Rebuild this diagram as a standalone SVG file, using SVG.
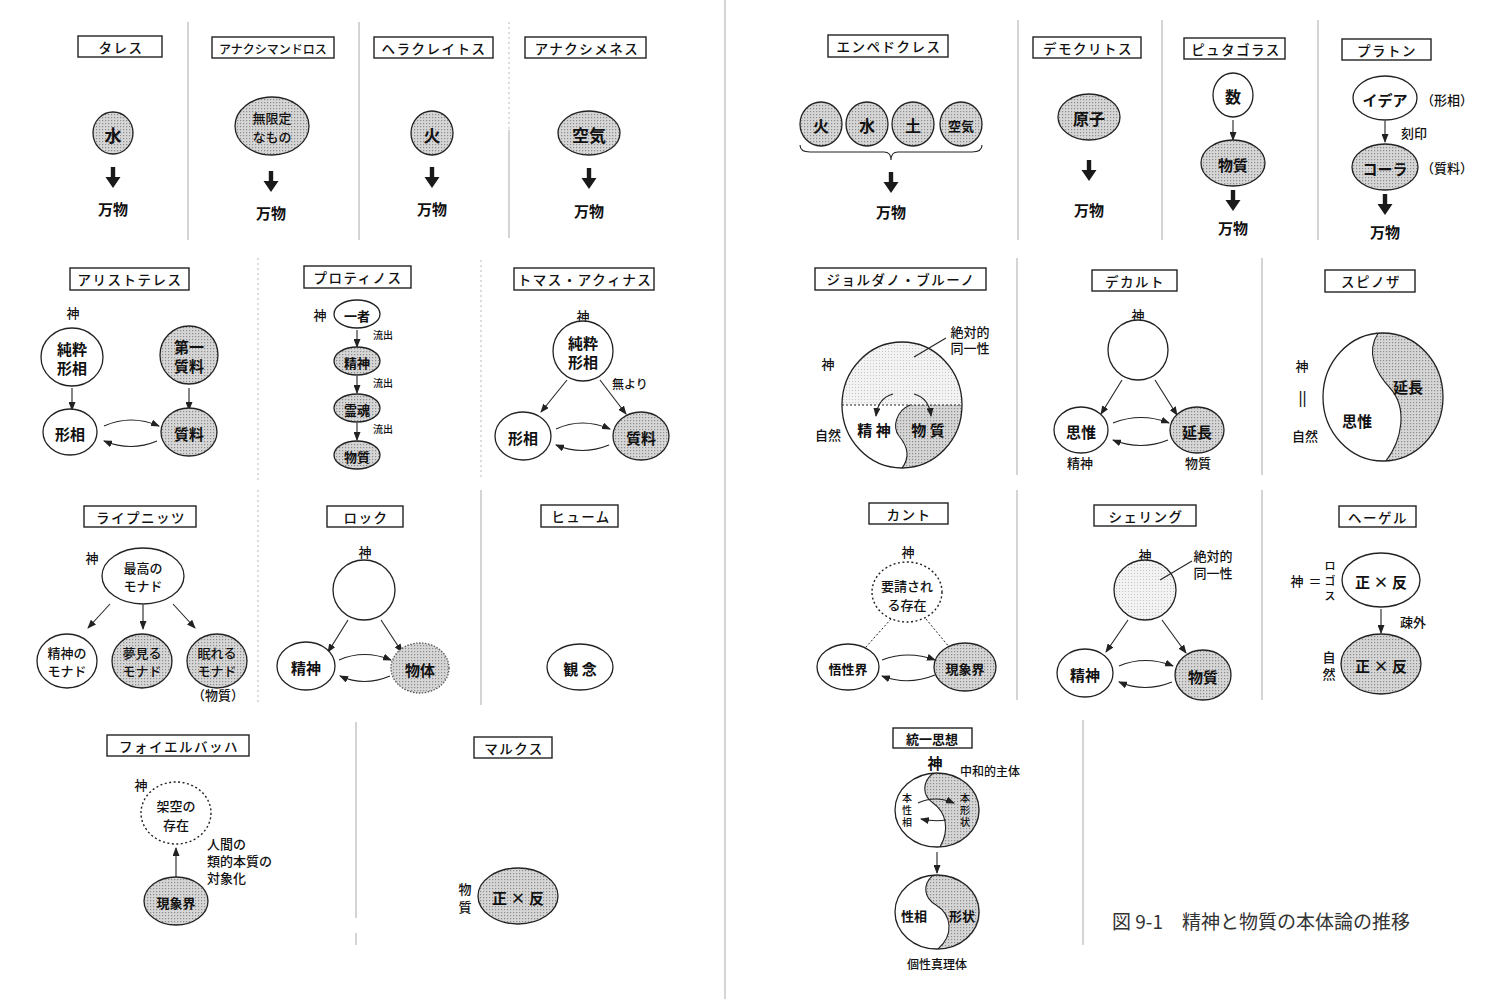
<svg xmlns="http://www.w3.org/2000/svg" width="1500" height="999" viewBox="0 0 1500 999">
<style>
text{font-family:"Noto Sans CJK JP","Noto Sans",sans-serif;fill:#111;text-anchor:middle;dominant-baseline:central;font-weight:500}
.h{font-size:13.5px;letter-spacing:1.5px}
.t{font-size:13px}
.n{font-size:15px;font-weight:700}
.b{font-weight:700}
.s{font-size:12px}
.xs{font-size:10px}
.l{text-anchor:start}
.box{fill:#fff;stroke:#222;stroke-width:1.4}
.w{fill:#fff;stroke:#222;stroke-width:1.3}
.g{fill:url(#dot);stroke:#222;stroke-width:1.3}
.lg{fill:url(#ldot);stroke:#222;stroke-width:1.3}
.ds{fill:#fff;stroke:#222;stroke-width:1.4;stroke-dasharray:2 2.5}
.ln{fill:none;stroke:#222;stroke-width:1.1}
.ar{fill:none;stroke:#222;stroke-width:1.1;marker-end:url(#ah)}
.dv{stroke:#aaa;stroke-width:1}
.dd{stroke:#bbb;stroke-width:1;stroke-dasharray:2 3}
</style>
<defs>
<pattern id="dot" width="3" height="3" patternUnits="userSpaceOnUse"><rect width="3" height="3" fill="#d6d6d6"/><rect width="1.2" height="1.2" fill="#8c8c8c"/></pattern>
<pattern id="ldot" width="3" height="3" patternUnits="userSpaceOnUse"><rect width="3" height="3" fill="#f3f3f3"/><rect width="1" height="1" fill="#c4c4c4"/></pattern>
<marker id="ah" markerWidth="9" markerHeight="7" refX="8" refY="3.5" orient="auto" markerUnits="userSpaceOnUse"><path d="M0,0 L9,3.5 L0,7 Z" fill="#222"/></marker>
<path id="thk" d="M-2.2,0 H2.2 V10 H7.5 L0,21 L-7.5,10 H-2.2 Z" fill="#1a1a1a"/>
</defs>
<rect width="1500" height="999" fill="#fff"/>

<g id="dividers">
<line class="dv" x1="725" y1="0" x2="725" y2="999"/>
<line class="dv" x1="188" y1="22" x2="188" y2="240"/>
<line class="dv" x1="359" y1="22" x2="359" y2="240"/>
<line class="dd" x1="509" y1="22" x2="509" y2="130"/>
<line class="dv" x1="509" y1="130" x2="509" y2="238"/>
<line class="dd" x1="258" y1="258" x2="258" y2="480"/>
<line class="dd" x1="481" y1="260" x2="481" y2="480"/>
<line class="dd" x1="258" y1="490" x2="258" y2="705"/>
<line class="dv" x1="481" y1="490" x2="481" y2="705"/>
<line class="dv" x1="356" y1="722" x2="356" y2="918"/>
<line class="dv" x1="356" y1="933" x2="356" y2="945"/>
<line class="dv" x1="1018" y1="20" x2="1018" y2="240"/>
<line class="dv" x1="1162" y1="20" x2="1162" y2="240"/>
<line class="dv" x1="1318" y1="20" x2="1318" y2="240"/>
<line class="dv" x1="1017" y1="258" x2="1017" y2="475"/>
<line class="dv" x1="1262" y1="258" x2="1262" y2="475"/>
<line class="dv" x1="1017" y1="490" x2="1017" y2="700"/>
<line class="dv" x1="1262" y1="490" x2="1262" y2="700"/>
<line class="dv" x1="1083" y1="720" x2="1083" y2="945"/>
</g>

<g id="thales">
<rect class="box" x="78" y="36" width="84" height="21"/><text class="h" x="121" y="47">タレス</text>
<ellipse class="g" cx="113" cy="133" rx="20" ry="21"/><text class="b" x="113" y="134" style="font-size:17px">水</text>
<use href="#thk" x="113" y="167"/>
<text class="n" x="113" y="208">万物</text>
</g>
<g id="anaximander">
<rect class="box" x="212" y="37" width="122" height="21"/><text class="s" x="273" y="48">アナクシマンドロス</text>
<ellipse class="g" cx="272" cy="126" rx="37" ry="29"/><text class="t" x="272" y="117">無限定</text><text class="t" x="272" y="136">なもの</text>
<use href="#thk" x="271" y="171"/>
<text class="n" x="271" y="212">万物</text>
</g>
<g id="heraclitus">
<rect class="box" x="374" y="37" width="119" height="21"/><text class="h" x="434" y="48">ヘラクレイトス</text>
<ellipse class="g" cx="432" cy="133" rx="21" ry="22"/><text class="b" x="432" y="134" style="font-size:17px">火</text>
<use href="#thk" x="432" y="167"/>
<text class="n" x="432" y="208">万物</text>
</g>
<g id="anaximenes">
<rect class="box" x="525" y="37" width="121" height="21"/><text class="h" x="587" y="48">アナクシメネス</text>
<ellipse class="g" cx="589" cy="133" rx="31" ry="22"/><text class="b" x="589" y="134" style="font-size:17px">空気</text>
<use href="#thk" x="589" y="168"/>
<text class="n" x="589" y="210">万物</text>
</g>

<g id="empedocles">
<rect class="box" x="828" y="35" width="120" height="22"/><text class="h" x="889" y="46">エンペドクレス</text>
<ellipse class="g" cx="821" cy="124" rx="21" ry="22"/><text class="b" x="821" y="125" style="font-size:16px">火</text>
<ellipse class="g" cx="867" cy="124" rx="21" ry="22"/><text class="b" x="867" y="125" style="font-size:16px">水</text>
<ellipse class="g" cx="913" cy="124" rx="21" ry="22"/><text class="b" x="913" y="125" style="font-size:16px">土</text>
<ellipse class="g" cx="961" cy="124" rx="21" ry="22"/><text class="b" x="961" y="125" style="font-size:13px">空気</text>
<path class="ln" d="M800,145 Q800,152 810,152 L884,152 Q891,152 891,160 Q891,152 898,152 L972,152 Q982,152 982,145"/>
<use href="#thk" x="891" y="172"/>
<text class="n" x="891" y="211">万物</text>
</g>
<g id="democritus">
<rect class="box" x="1033" y="37" width="108" height="21"/><text class="h" x="1088" y="48">デモクリトス</text>
<ellipse class="g" cx="1089" cy="117" rx="31" ry="23"/><text class="b" x="1089" y="118" style="font-size:16px">原子</text>
<use href="#thk" x="1089" y="160"/>
<text class="n" x="1089" y="209">万物</text>
</g>
<g id="pythagoras">
<rect class="box" x="1184" y="38" width="101" height="21"/><text class="h" x="1236" y="49">ピュタゴラス</text>
<ellipse class="w" cx="1233" cy="95" rx="20" ry="22"/><text class="b" x="1233" y="96" style="font-size:16px">数</text>
<path class="ar" d="M1233,120 V140"/>
<ellipse class="g" cx="1233" cy="163" rx="32" ry="23"/><text class="n" x="1233" y="164">物質</text>
<use href="#thk" x="1233" y="190"/>
<text class="n" x="1233" y="227">万物</text>
</g>
<g id="plato">
<rect class="box" x="1342" y="39" width="89" height="21"/><text class="h" x="1387" y="50">プラトン</text>
<ellipse class="w" cx="1385" cy="98" rx="32" ry="22"/><text class="n" x="1385" y="99">イデア</text>
<text class="t" x="1447" y="99">（形相）</text>
<path class="ar" d="M1385,121 V142"/><text class="t" x="1414" y="132">刻印</text>
<ellipse class="g" cx="1385" cy="167" rx="33" ry="23"/><text class="n" x="1385" y="168">コーラ</text>
<text class="t" x="1447" y="167">（質料）</text>
<use href="#thk" x="1385" y="194"/>
<text class="n" x="1385" y="231">万物</text>
</g>

<g id="aristotle">
<rect class="box" x="70" y="268" width="119" height="22"/><text class="h" x="130" y="279">アリストテレス</text>
<text class="t" x="73" y="312">神</text>
<ellipse class="w" cx="72" cy="357" rx="31" ry="29"/><text class="n" x="72" y="348">純粋</text><text class="n" x="72" y="367">形相</text>
<ellipse class="g" cx="189" cy="355" rx="29" ry="29"/><text class="n" x="189" y="346">第一</text><text class="n" x="189" y="365">質料</text>
<path class="ar" d="M72,388 V410"/><path class="ar" d="M189,388 V410"/>
<ellipse class="w" cx="70" cy="432" rx="27" ry="23"/><text class="n" x="70" y="433">形相</text>
<ellipse class="g" cx="189" cy="432" rx="28" ry="24"/><text class="n" x="189" y="433">質料</text>
<path class="ar" d="M104,426 Q131,414 159,426"/><path class="ar" d="M157,441 Q131,452 104,441"/>
</g>
<g id="plotinus">
<rect class="box" x="304" y="266" width="107" height="22"/><text class="h" x="358" y="277">プロティノス</text>
<text class="t" x="320" y="314">神</text>
<ellipse class="w" cx="357" cy="314" rx="23" ry="14"/><text class="t b" x="357" y="315">一者</text>
<path class="ar" d="M357,330 V347"/><text class="xs" x="383" y="334">流出</text>
<ellipse class="g" cx="357" cy="361" rx="23" ry="14"/><text class="t b" x="357" y="362">精神</text>
<path class="ar" d="M357,376 V393"/><text class="xs" x="383" y="382">流出</text>
<ellipse class="g" cx="357" cy="408" rx="23" ry="14"/><text class="t b" x="357" y="409">霊魂</text>
<path class="ar" d="M357,423 V440"/><text class="xs" x="383" y="428">流出</text>
<ellipse class="g" cx="357" cy="455" rx="23" ry="14"/><text class="t b" x="357" y="456">物質</text>
</g>
<g id="aquinas">
<rect class="box" x="514" y="268" width="140" height="22"/><text class="h" x="585" y="279">トマス・アクィナス</text>
<text class="t" x="583" y="315">神</text>
<ellipse class="w" cx="583" cy="351" rx="30" ry="30"/><text class="n" x="583" y="342">純粋</text><text class="n" x="583" y="361">形相</text>
<path class="ar" d="M567,380 L541,412"/><path class="ar" d="M600,380 L626,414"/>
<text class="s" x="630" y="383">無より</text>
<ellipse class="w" cx="523" cy="436" rx="28" ry="24"/><text class="n" x="523" y="437">形相</text>
<ellipse class="g" cx="641" cy="436" rx="28" ry="24"/><text class="n" x="641" y="437">質料</text>
<path class="ar" d="M556,429 Q582,417 610,429"/><path class="ar" d="M609,445 Q582,456 556,445"/>
</g>

<g id="bruno">
<rect class="box" x="815" y="268" width="171" height="22"/><text class="h" x="901" y="279">ジョルダノ・ブルーノ</text>
<text class="t" x="828" y="363">神</text>
<text class="t" x="828" y="434">自然</text>
<path d="M842,405 A60,63 0 0 1 962,405 Z" fill="url(#ldot)"/>
<path d="M910,405 C896,411 892,427 899,436 C909,448 909,459 902,468 A60,63 0 0 0 962,405 Z" fill="url(#dot)"/>
<path d="M842,405 H962" stroke="#222" stroke-width="1" stroke-dasharray="2 2"/>
<path class="ln" d="M910,405 C896,411 892,427 899,436 C909,448 909,459 902,468"/>
<ellipse cx="902" cy="405" rx="60" ry="63" fill="none" stroke="#222" stroke-width="1.3"/>
<path class="ar" d="M893,394 Q878,398 876,416"/><path class="ar" d="M914,394 Q929,398 931,416"/>
<text class="n" x="874" y="429">精 神</text><text class="n" x="928" y="429">物 質</text>
<text class="t" x="970" y="331">絶対的</text><text class="t" x="970" y="347">同一性</text>
<path class="ln" d="M946,338 L914,357"/>
</g>
<g id="descartes">
<rect class="box" x="1092" y="270" width="85" height="21"/><text class="h" x="1135" y="281">デカルト</text>
<text class="t" x="1138" y="314">神</text>
<ellipse class="w" cx="1138" cy="350" rx="30" ry="30"/>
<path class="ar" d="M1122,380 L1101,414"/><path class="ar" d="M1155,380 L1177,415"/>
<ellipse class="w" cx="1081" cy="430" rx="27" ry="23"/><text class="n" x="1081" y="431">思惟</text>
<ellipse class="g" cx="1197" cy="430" rx="27" ry="23"/><text class="n" x="1197" y="431">延長</text>
<path class="ar" d="M1113,423 Q1141,412 1169,423"/><path class="ar" d="M1168,440 Q1141,451 1113,440"/>
<text class="t" x="1080" y="462">精神</text><text class="t" x="1198" y="462">物質</text>
</g>
<g id="spinoza">
<rect class="box" x="1325" y="270" width="90" height="22"/><text class="h" x="1371" y="281">スピノザ</text>
<text class="t" x="1302" y="365">神</text><text x="1302" y="398" style="font-family:'DejaVu Sans',sans-serif;font-size:15px;letter-spacing:-1px;font-weight:400">||</text><text class="t" x="1305" y="435">自然</text>
<ellipse cx="1383" cy="397" rx="60" ry="64" fill="#fff"/>
<path d="M1378,333.2 C1366,352 1375,372 1390,388 C1408,408 1402,440 1386,460.9 A60,64 0 1 0 1378,333.2 Z" fill="url(#dot)"/>
<path class="ln" d="M1378,333.2 C1366,352 1375,372 1390,388 C1408,408 1402,440 1386,460.9"/>
<ellipse cx="1383" cy="397" rx="60" ry="64" fill="none" stroke="#222" stroke-width="1.3"/>
<text class="n" x="1408" y="386">延長</text><text class="n" x="1357" y="420">思惟</text>
</g>

<g id="leibniz">
<rect class="box" x="84" y="506" width="112" height="21"/><text class="h" x="141" y="517">ライプニッツ</text>
<text class="t" x="92" y="557">神</text>
<ellipse class="w" cx="143" cy="576" rx="41" ry="28"/><text class="t" x="143" y="567">最高の</text><text class="t" x="143" y="585">モナド</text>
<path class="ar" d="M110,604 L88,628"/><path class="ar" d="M143,605 V629"/><path class="ar" d="M173,604 L195,628"/>
<ellipse class="w" cx="67" cy="661" rx="30" ry="27"/><text class="t" x="67" y="652">精神の</text><text class="t" x="67" y="670">モナド</text>
<ellipse class="g" cx="142" cy="661" rx="30" ry="27"/><text class="t" x="142" y="652">夢見る</text><text class="t" x="142" y="670">モナド</text>
<ellipse class="g" cx="217" cy="661" rx="30" ry="27"/><text class="t" x="217" y="652">眠れる</text><text class="t" x="217" y="670">モナド</text>
<text class="t" x="218" y="694">（物質）</text>
</g>
<g id="locke">
<rect class="box" x="327" y="506" width="76" height="21"/><text class="h" x="366" y="517">ロック</text>
<text class="t" x="365" y="551">神</text>
<ellipse class="w" cx="364" cy="590" rx="31" ry="30"/>
<path class="ar" d="M348,620 L328,652"/><path class="ar" d="M381,620 L402,652"/>
<ellipse class="w" cx="306" cy="666" rx="29" ry="24"/><text class="n" x="306" y="667">精神</text>
<ellipse cx="420" cy="668" rx="29" ry="25" fill="url(#dot)" stroke="#555" stroke-width="1.3" stroke-dasharray="1.5 1.5"/><text class="n" x="420" y="669">物体</text>
<path class="ar" d="M339,660 Q364,649 391,660"/><path class="ar" d="M390,676 Q364,687 340,676"/>
</g>
<g id="hume">
<rect class="box" x="541" y="505" width="77" height="22"/><text class="h" x="581" y="516">ヒューム</text>
<ellipse class="w" cx="580" cy="667" rx="33" ry="23"/><text class="n" x="580" y="668">観 念</text>
</g>

<g id="kant">
<rect class="box" x="869" y="503" width="79" height="21"/><text class="h" x="909" y="514">カント</text>
<text class="t" x="908" y="551">神</text>
<ellipse class="ds" cx="907" cy="592" rx="35" ry="30"/><text class="t" x="907" y="585">要請され</text><text class="t" x="907" y="604">る存在</text>
<path d="M891,619 L866,647 M926,619 L950,648" stroke="#222" stroke-width="1" stroke-dasharray="2 2"/>
<ellipse class="w" cx="848" cy="667" rx="31" ry="23"/><text class="t b" x="848" y="668">悟性界</text>
<ellipse class="g" cx="965" cy="667" rx="31" ry="24"/><text class="t b" x="965" y="668">現象界</text>
<path class="ar" d="M882,660 Q908,650 935,660"/><path class="ar" d="M935,675 Q908,686 882,676"/>
</g>
<g id="schelling">
<rect class="box" x="1094" y="505" width="102" height="21"/><text class="h" x="1146" y="516">シェリング</text>
<text class="t" x="1145" y="554">神</text>
<ellipse class="lg" cx="1145" cy="590" rx="31" ry="30"/>
<text class="t" x="1213" y="555">絶対的</text><text class="t" x="1213" y="572">同一性</text>
<path class="ln" d="M1192,561 L1160,580"/>
<path class="ar" d="M1128,620 L1106,652"/><path class="ar" d="M1162,620 L1186,653"/>
<ellipse class="w" cx="1085" cy="673" rx="28" ry="24"/><text class="n" x="1085" y="674">精神</text>
<ellipse class="g" cx="1203" cy="675" rx="28" ry="25"/><text class="n" x="1203" y="676">物質</text>
<path class="ar" d="M1119,666 Q1145,655 1173,666"/><path class="ar" d="M1172,682 Q1145,693 1119,682"/>
</g>
<g id="hegel">
<rect class="box" x="1339" y="506" width="77" height="21"/><text class="h" x="1378" y="517">ヘーゲル</text>
<text class="t" x="1297" y="580">神</text><text class="t" x="1315" y="580">＝</text>
<text x="1330" y="565" style="font-size:11px">ロ</text><text x="1330" y="580" style="font-size:11px">ゴ</text><text x="1330" y="595" style="font-size:11px">ス</text>
<ellipse class="w" cx="1381" cy="580" rx="39" ry="27"/><text class="n" x="1381" y="581">正 × 反</text>
<path class="ar" d="M1381,609 V633"/><text class="t" x="1413" y="621">疎外</text>
<text class="t" x="1329" y="656">自</text><text class="t" x="1329" y="673">然</text>
<ellipse class="g" cx="1381" cy="664" rx="40" ry="30"/><text class="n" x="1381" y="665">正 × 反</text>
</g>

<g id="feuerbach">
<rect class="box" x="107" y="735" width="142" height="21"/><text class="h" x="179" y="746">フォイエルバッハ</text>
<text class="t" x="141" y="784">神</text>
<ellipse class="ds" cx="176" cy="813" rx="35" ry="31"/><text class="t" x="176" y="805">架空の</text><text class="t" x="176" y="824">存在</text>
<path class="ar" d="M176,877 V848"/>
<text class="t l" x="207" y="843">人間の</text><text class="t l" x="207" y="860">類的本質の</text><text class="t l" x="207" y="877">対象化</text>
<ellipse class="g" cx="176" cy="901" rx="32" ry="24"/><text class="t b" x="176" y="902">現象界</text>
</g>
<g id="marx">
<rect class="box" x="474" y="737" width="78" height="21"/><text class="h" x="514" y="748">マルクス</text>
<text class="t" x="465" y="888">物</text><text class="t" x="465" y="906">質</text>
<ellipse class="g" cx="518" cy="896" rx="40" ry="28"/><text class="n" x="518" y="897">正 × 反</text>
</g>

<g id="unification">
<rect class="box" x="893" y="728" width="79" height="20"/><text class="t b" x="932" y="738">統一思想</text>
<text class="n" x="935" y="762">神</text>
<text class="s" x="990" y="770">中和的主体</text>
<ellipse cx="937" cy="810" rx="42" ry="37" fill="#fff"/>
<path d="M933,773.2 C922,782 922,795 933,803 C946,812 950,830 940,846.9 A42,37 0 1 0 933,773.2 Z" fill="url(#dot)"/>
<path class="ln" d="M933,773.2 C922,782 922,795 933,803 C946,812 950,830 940,846.9"/>
<ellipse cx="937" cy="810" rx="42" ry="37" fill="none" stroke="#222" stroke-width="1.3"/>
<text class="xs" x="907" y="797">本</text><text class="xs" x="907" y="809">性</text><text class="xs" x="907" y="821">相</text>
<text class="xs" x="965" y="797">本</text><text class="xs" x="965" y="809">形</text><text class="xs" x="965" y="821">状</text>
<path class="ar" d="M918,803 Q935,795 954,803"/><path class="ar" d="M946,820 Q935,822 921,819"/>
<path class="ar" d="M937,852 V873"/>
<ellipse cx="937" cy="912" rx="42" ry="37" fill="#fff"/>
<path d="M933,875.2 C922,885 924,898 936,905 C952,915 954,935 938,948.9 A42,37 0 1 0 933,875.2 Z" fill="url(#dot)"/>
<path class="ln" d="M933,875.2 C922,885 924,898 936,905 C952,915 954,935 938,948.9"/>
<ellipse cx="937" cy="912" rx="42" ry="37" fill="none" stroke="#222" stroke-width="1.3"/>
<text class="t b" x="914" y="915">性相</text><text class="t b" x="962" y="915">形状</text>
<text class="s" x="937" y="963">個性真理体</text>
</g>

<g id="caption">
<text class="l" x="1112" y="920" style="font-size:19px;fill:#333;font-weight:400">図 9-1　精神と物質の本体論の推移</text>
</g>
</svg>
